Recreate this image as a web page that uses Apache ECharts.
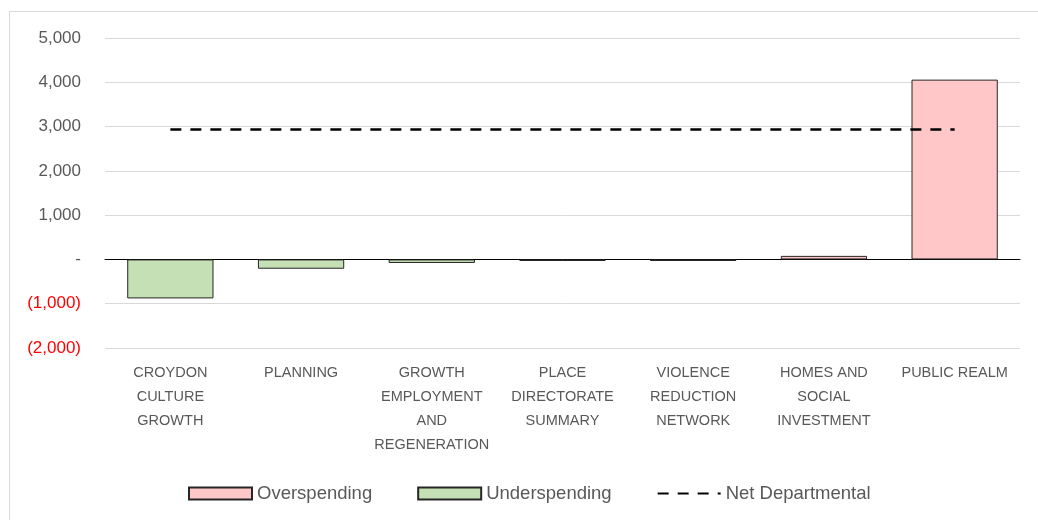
<!DOCTYPE html>
<html><head><meta charset="utf-8">
<script src="https://cdn.jsdelivr.net/npm/echarts@6/dist/echarts.min.js"></script>
<style>
html,body{margin:0;padding:0;background:#fff;}
#frame{position:absolute;left:9px;top:11px;width:1040px;height:520px;border:1px solid #d9d9d9;box-sizing:border-box;}
#c{position:absolute;left:0;top:0;width:1038px;height:520px;}
</style></head>
<body><div id="frame"></div><div id="c"></div>
<script>
const categories = ['CROYDON\nCULTURE\nGROWTH','PLANNING','GROWTH\nEMPLOYMENT\nAND\nREGENERATION','PLACE\nDIRECTORATE\nSUMMARY','VIOLENCE\nREDUCTION\nNETWORK','HOMES AND\nSOCIAL\nINVESTMENT','PUBLIC REALM'];
const overspending = [null,null,null,null,null,80,4060];
const underspending = [-880,-210,-80,-35,-35,null,null];
const netDepartmental = [2935,2935,2935,2935,2935,2935,2935];
const yTicks = {min:-2000,max:5000,interval:1000};

const chart = echarts.init(document.getElementById('c'));
const font = 'Liberation Sans';
function fmt(v){
  if(v===0) return '-';
  const s = Math.abs(v).toLocaleString('en-US');
  return v<0 ? '('+s+')' : s;
}
chart.setOption({
  animation:false,
  textStyle:{fontFamily:font},
  grid:{left:105,right:18,top:38,bottom:172},
  legend:{
    top:479,left:183,itemWidth:63,itemHeight:12,itemGap:45,
    textStyle:{fontSize:18.5,color:'#595959',fontFamily:font},
    data:[
      {name:'Overspending',icon:'rect'},
      {name:'Underspending',icon:'rect'},
      {name:'Net Departmental',itemStyle:{opacity:0}}
    ]
  },
  xAxis:{
    type:'category',data:categories,
    axisTick:{show:false},
    axisLine:{show:true,onZero:true,lineStyle:{color:'#000',width:1}},
    axisLabel:{interval:0,fontSize:14.5,color:'#595959',lineHeight:24,margin:13,fontFamily:font}
  },
  yAxis:{
    type:'value',min:yTicks.min,max:yTicks.max,interval:yTicks.interval,
    axisLine:{show:false},axisTick:{show:false},
    splitLine:{lineStyle:{color:'#d9d9d9',width:1}},
    axisLabel:{fontSize:17,margin:24,fontFamily:font,formatter:fmt,
      color:function(v){return Number(v)<0?'#ff0000':'#595959';}}
  },
  series:[
    {name:'Overspending',type:'bar',data:overspending,barWidth:'66%',barGap:'-100%',
     itemStyle:{color:'#ffc7c7',borderColor:'#262626',borderWidth:1}},
    {name:'Underspending',type:'bar',data:underspending,barWidth:'66%',barGap:'-100%',
     itemStyle:{color:'#c5e0b4',borderColor:'#262626',borderWidth:1}},
    {name:'Net Departmental',type:'line',data:netDepartmental,symbol:'none',
     lineStyle:{color:'#000',width:2.5,type:[11,9]},itemStyle:{color:'#000'},z:5}
  ]
});
</script></body></html>
